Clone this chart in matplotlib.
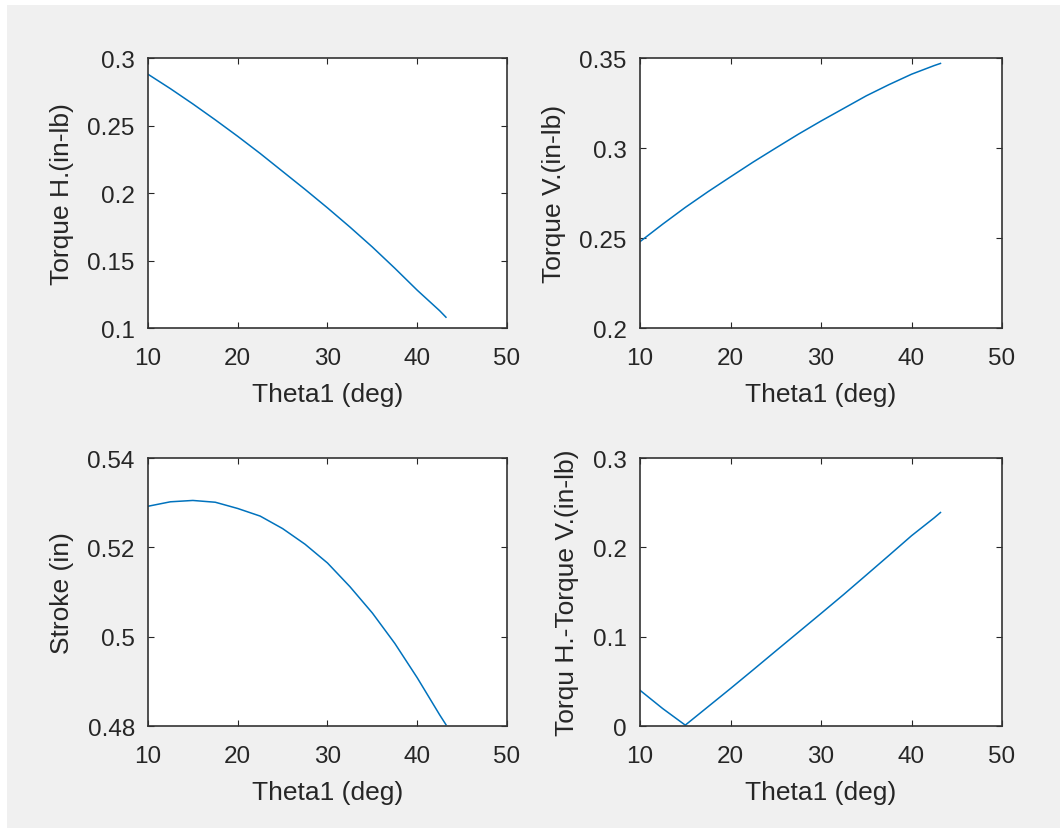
import matplotlib
matplotlib.use('Agg')
import matplotlib.pyplot as plt
from matplotlib.patches import Rectangle
from matplotlib.ticker import FuncFormatter

# data
theta1 = [10, 12.5, 15, 17.5, 20, 22.5, 25, 27.5, 30, 32.5, 35, 37.5, 40, 42.5, 43.2]
torque_h = [0.288, 0.2773, 0.266, 0.2542, 0.242, 0.2293, 0.216, 0.2027, 0.189,
            0.1748, 0.160, 0.1443, 0.128, 0.1128, 0.108]
torque_v = [0.248, 0.2577, 0.267, 0.2757, 0.284, 0.2922, 0.300, 0.3077, 0.315,
            0.322, 0.329, 0.3352, 0.341, 0.3458, 0.347]
stroke = [0.5292, 0.5302, 0.5305, 0.5301, 0.5287, 0.5270, 0.5242, 0.5207, 0.5165,
          0.5112, 0.5053, 0.4985, 0.4908, 0.4825, 0.4803]
torque_diff = [0.040, 0.0196, 0.001, 0.0215, 0.042, 0.0629, 0.084, 0.105, 0.126,
               0.1472, 0.169, 0.1909, 0.213, 0.233, 0.239]

x_ticks = [10, 20, 30, 40, 50]
panels = [
    (torque_h, 'Torque H.(in-lb)', (0.1, 0.3), [0.1, 0.15, 0.2, 0.25, 0.3]),
    (torque_v, 'Torque V.(in-lb)', (0.2, 0.35), [0.2, 0.25, 0.3, 0.35]),
    (stroke, 'Stroke (in)', (0.48, 0.54), [0.48, 0.5, 0.52, 0.54]),
    (torque_diff, 'Torqu H.-Torque V.(in-lb)', (0, 0.3), [0, 0.1, 0.2, 0.3]),
]

# axes boxes in figure fractions (left, bottom, width, height)
boxes = [
    [0.1396, 0.6031, 0.3387, 0.3257],
    [0.6038, 0.6031, 0.3415, 0.3257],
    [0.1396, 0.1230, 0.3387, 0.3233],
    [0.6038, 0.1230, 0.3415, 0.3233],
]

plt.rcParams['font.family'] = ['Liberation Sans', 'DejaVu Sans']
txt_color = '#262626'
line_color = '#0072BD'

fig = plt.figure(figsize=(10.6, 8.29), dpi=100, facecolor='white')
fig.patches.append(Rectangle((7 / 1060, 0), 1 - 7 / 1060, 1 - 6 / 829,
                             transform=fig.transFigure, facecolor='#f0f0f0',
                             edgecolor='none', zorder=-10))

fmt = FuncFormatter(lambda v, pos: '{:g}'.format(round(v, 4)))

for (yvals, ylab, ylim, yticks), box in zip(panels, boxes):
    ax = fig.add_axes(box)
    ax.plot(theta1, yvals, color=line_color, linewidth=1.1)
    ax.set_xlim(10, 50)
    ax.set_ylim(*ylim)
    ax.set_xticks(x_ticks)
    ax.set_yticks(yticks)
    ax.yaxis.set_major_formatter(fmt)
    ax.tick_params(direction='in', length=4, width=0.8, colors=txt_color,
                   labelsize=17.5, top=True, right=True)
    ax.tick_params(axis='x', pad=14)
    ax.tick_params(axis='y', pad=9.5)
    ax.set_xlabel('Theta1 (deg)', fontsize=19, color=txt_color, labelpad=9)
    ax.set_ylabel(ylab, fontsize=19, color=txt_color, labelpad=10)
    for sp in ax.spines.values():
        sp.set_color('#333333')
        sp.set_linewidth(1.2)

fig.savefig('out.png', dpi=100, facecolor=fig.get_facecolor())
